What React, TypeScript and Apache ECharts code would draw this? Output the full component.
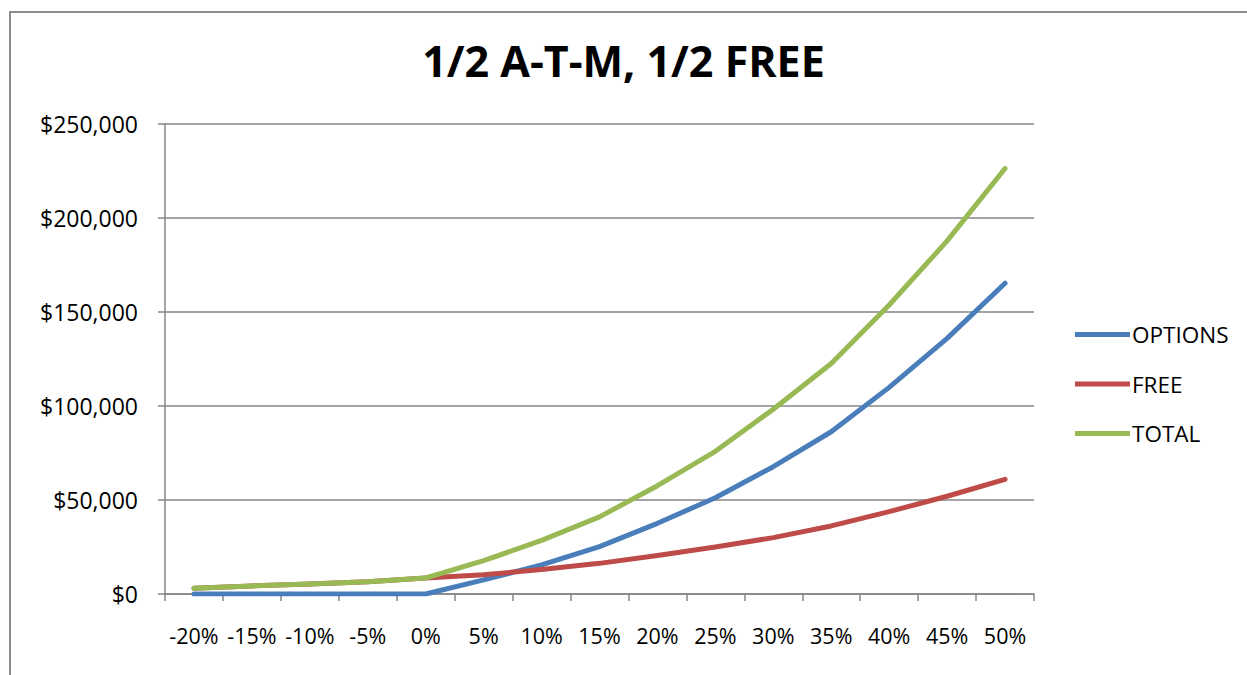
import React, { useEffect, useRef } from "react";
import * as echarts from "echarts";

const categories = ["-20%", "-15%", "-10%", "-5%", "0%", "5%", "10%", "15%", "20%", "25%", "30%", "35%", "40%", "45%", "50%"];
const options = [0, 0, 0, 0, 0, 7500, 15500, 25200, 37600, 51200, 67700, 86300, 109900, 136000, 165300];
const free = [3000, 4300, 5300, 6500, 8500, 10200, 13000, 16300, 20500, 25000, 30000, 36200, 43800, 52000, 61000];
const total = [3000, 4300, 5300, 6500, 8500, 17700, 28500, 41000, 57600, 75900, 98300, 122600, 153700, 187800, 226300];
const yTicks = [0, 50000, 100000, 150000, 200000, 250000];

const FONT = "'Open Sans', 'Noto Sans', sans-serif";

export default function App() {
  const ref = useRef<HTMLDivElement>(null);
  useEffect(() => {
    const chart = echarts.init(ref.current!, undefined, { renderer: "svg" });
    const mk = (name: string, data: number[], color: string) => ({
      name,
      type: "line",
      data,
      symbol: "none",
      smooth: false,
      lineStyle: { width: 5, color, cap: "round", join: "round" },
      itemStyle: { color },
    });
    chart.setOption({
      animation: false,
      backgroundColor: "#ffffff",
      textStyle: { fontFamily: FONT },
      title: {
        text: "1/2 A-T-M, 1/2 FREE",
        left: "center",
        top: 34,
        textStyle: { fontFamily: FONT, fontSize: 43, fontWeight: "bold", color: "#000" },
      },
      graphic: [
        {
          type: "rect",
          shape: { x: 10, y: 12, width: 1300, height: 700 },
          style: { fill: "none", stroke: "#8c8c8c", lineWidth: 2 },
          silent: true,
        },
      ],
      legend: {
        orient: "vertical",
        left: 1070,
        top: 318,
        itemWidth: 55,
        itemHeight: 5,
        itemGap: 26.5,
        icon: "rect",
        textStyle: { fontFamily: FONT, fontSize: 22.5, color: "#000", padding: [0, 0, 0, -3] },
        data: ["OPTIONS", "FREE", "TOTAL"],
      },
      grid: { left: 165, right: 213, top: 124, bottom: 81, containLabel: false },
      xAxis: {
        type: "category",
        data: categories,
        boundaryGap: true,
        axisLine: { lineStyle: { color: "#868686", width: 1.5 } },
        axisTick: { show: true, length: 7, interval: 0, lineStyle: { color: "#868686", width: 1.5 } },
        axisLabel: { interval: 0, fontFamily: FONT, fontSize: 21.5, color: "#000", margin: 30 },
      },
      yAxis: {
        type: "value",
        min: 0,
        max: 250000,
        interval: 50000,
        axisLine: { show: true, lineStyle: { color: "#868686", width: 1.5 } },
        axisTick: { show: true, length: 7, lineStyle: { color: "#868686", width: 1.5 } },
        splitLine: { show: true, lineStyle: { color: "#868686", width: 1.5 } },
        axisLabel: {
          fontFamily: FONT,
          fontSize: 23,
          color: "#000",
          margin: 27,
          formatter: (v: number) => (yTicks.includes(v) ? "$" + v.toLocaleString("en-US") : ""),
        },
      },
      series: [
        mk("OPTIONS", options, "#4a7ebb"),
        mk("FREE", free, "#be4b48"),
        mk("TOTAL", total, "#98b954"),
      ],
    });
    return () => chart.dispose();
  }, []);
  return (
    <div
      ref={ref}
      style={{ position: "fixed", left: 0, top: 0, width: 1247, height: 675 }}
    />
  );
}
